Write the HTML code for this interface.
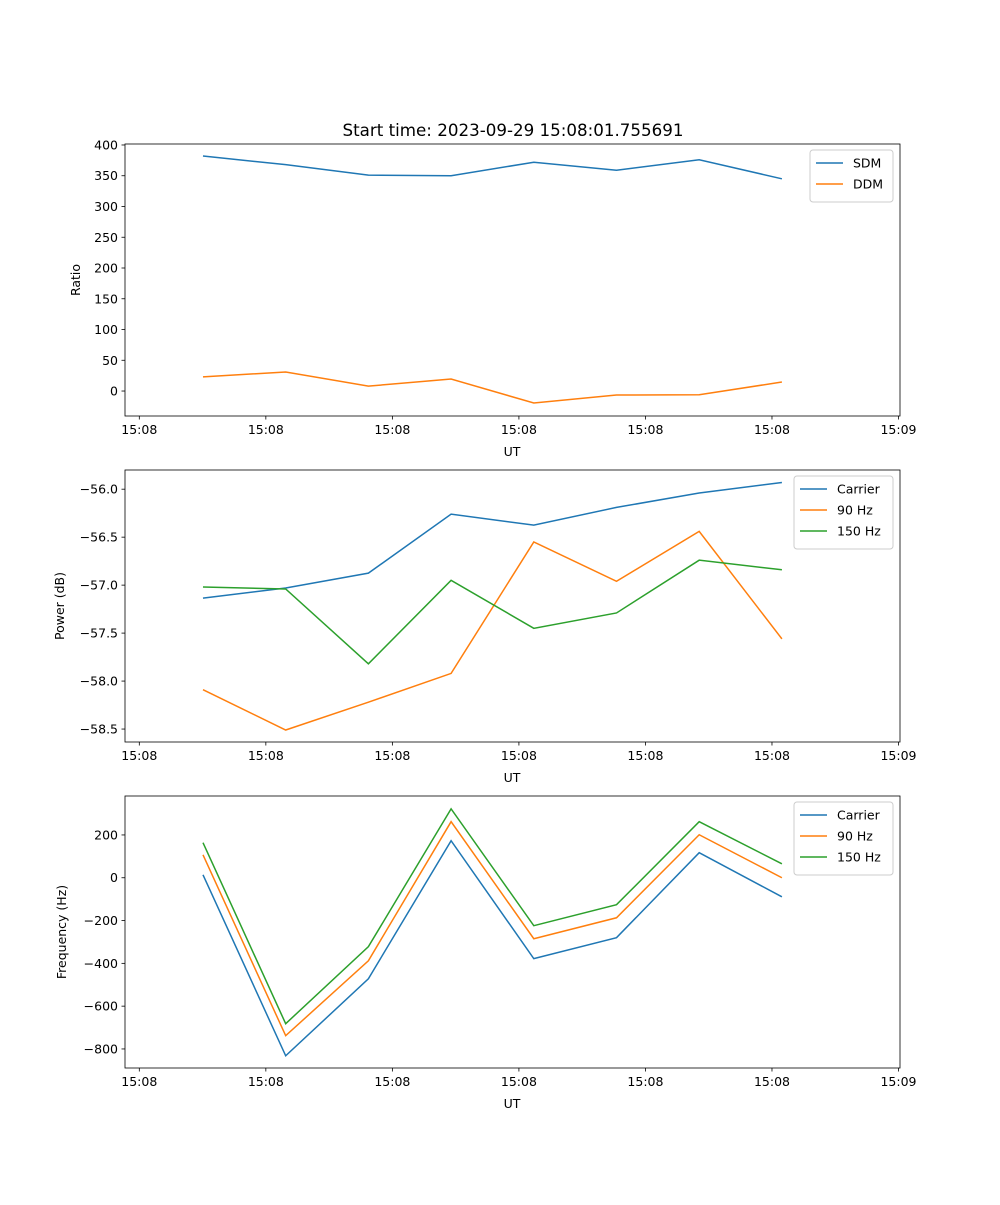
<!DOCTYPE html>
<html><head><meta charset="utf-8"><style>
body{margin:0;background:#fff}
svg text{font-family:"DejaVu Sans","Liberation Sans",sans-serif;fill:#000}
</style></head><body>
<svg id="fig" width="1000" height="1200" xmlns="http://www.w3.org/2000/svg">
<text x="513" y="136" font-size="16.7" text-anchor="middle">Start time: 2023-09-29 15:08:01.755691</text>
</svg>
<script>
const times = [0,1,2,3,4,5,6,7];
const xTickPos = [-0.77,0.76,2.29,3.82,5.35,6.88,8.41];
const xTickLabels = ["15:08","15:08","15:08","15:08","15:08","15:08","15:09"];
const sdm = [382,368,351,350,372,359,376,345];
const ddm = [23,31,8,19.5,-19.5,-6.5,-6,14.6];
const pCarrier = [-57.135,-57.03,-56.875,-56.26,-56.375,-56.19,-56.04,-55.93];
const p90 = [-58.09,-58.51,-58.22,-57.92,-56.55,-56.96,-56.44,-57.56];
const p150 = [-57.02,-57.04,-57.82,-56.95,-57.45,-57.29,-56.74,-56.84];
const fCarrier = [14,-832,-472,173,-378,-280,117,-89];
const f90 = [107,-738,-388,262,-285,-187,201,0];
const f150 = [164,-682,-322,322,-224,-126,262,65];
const ticks1 = [400,350,300,250,200,150,100,50,0];
const ticks2 = [-56.0,-56.5,-57.0,-57.5,-58.0,-58.5];
const ticks3 = [200,0,-200,-400,-600,-800];

const NS="http://www.w3.org/2000/svg";
const svg=document.getElementById('fig');
const C=["#1f77b4","#ff7f0e","#2ca02c"];
function mk(tag,attrs,parent){const e=document.createElementNS(NS,tag);for(const k in attrs)e.setAttribute(k,attrs[k]);(parent||svg).appendChild(e);return e;}
const L=125,R=900,xMin=-0.943,xMax=8.428;
const xs=v=>L+(v-xMin)/(xMax-xMin)*(R-L);

function panel(name,top,bot,yMin,yMax,yticks,fmt,ylabel,series,names,leg){
  const g=mk('g',{});
  
  
  const ys=v=>bot-(v-yMin)/(yMax-yMin)*(bot-top);
  series.forEach((s,i)=>{
    const p=mk('polyline',{points:s.map((v,j)=>xs(times[j])+','+ys(v)).join(' '),fill:'none',stroke:C[i],'stroke-width':1.5},g);
    
    
  });
  const fr=mk('rect',{x:L,y:top,width:R-L,height:bot-top,fill:'none',stroke:'#000','stroke-width':0.8},g);
  
  
  yticks.forEach(v=>{const y=ys(v);mk('line',{x1:L-3.5,x2:L,y1:y,y2:y,stroke:'#000','stroke-width':0.8},g);
    const t=mk('text',{x:L-7,y:y+4.5,'font-size':12.5,'text-anchor':'end'},g);t.textContent=fmt(v);
    });
  xTickPos.forEach((v,i)=>{const x=xs(v);mk('line',{x1:x,x2:x,y1:bot,y2:bot+3.5,stroke:'#000','stroke-width':0.8},g);
    const t=mk('text',{x:x,y:bot+18,'font-size':12.5,'text-anchor':'middle'},g);t.textContent=xTickLabels[i];
    });
  const xl=mk('text',{x:512,y:bot+40,'font-size':12.5,'text-anchor':'middle'},g);xl.textContent='UT';
  
  const cy=(top+bot)/2;
  const yl=mk('text',{x:0,y:0,'font-size':12.5,'text-anchor':'middle',transform:`translate(${leg.yl},${cy}) rotate(-90)`},g);yl.textContent=ylabel;
  
  const lg=mk('g',{},g);
  mk('rect',{x:leg.x,y:top+6,width:893-leg.x,height:names.length*21+10,rx:3,fill:'#fff',stroke:'#ccc','stroke-width':1},lg);
  names.forEach((n,i)=>{const y=top+19+i*21;
    mk('line',{x1:leg.x+6,x2:leg.x+33,y1:y,y2:y,stroke:C[i],'stroke-width':1.5},lg);
    const t=mk('text',{x:leg.x+43,y:y+4.5,'font-size':12.5},lg);t.textContent=n;
    });
}
panel('ratio-panel',144,416,-40.6,401.6,ticks1,v=>String(v),'Ratio',[sdm,ddm],['SDM','DDM'],{x:810,yl:80});
panel('power-panel',470,742,-58.635,-55.80,ticks2,v=>v.toFixed(1).replace('-','\u2212'),'Power (dB)',[pCarrier,p90,p150],['Carrier','90 Hz','150 Hz'],{x:794,yl:64});
panel('frequency-panel',796,1068,-889,382,ticks3,v=>String(v).replace('-','\u2212'),'Frequency (Hz)',[fCarrier,f90,f150],['Carrier','90 Hz','150 Hz'],{x:794,yl:66});
</script>
</body></html>
